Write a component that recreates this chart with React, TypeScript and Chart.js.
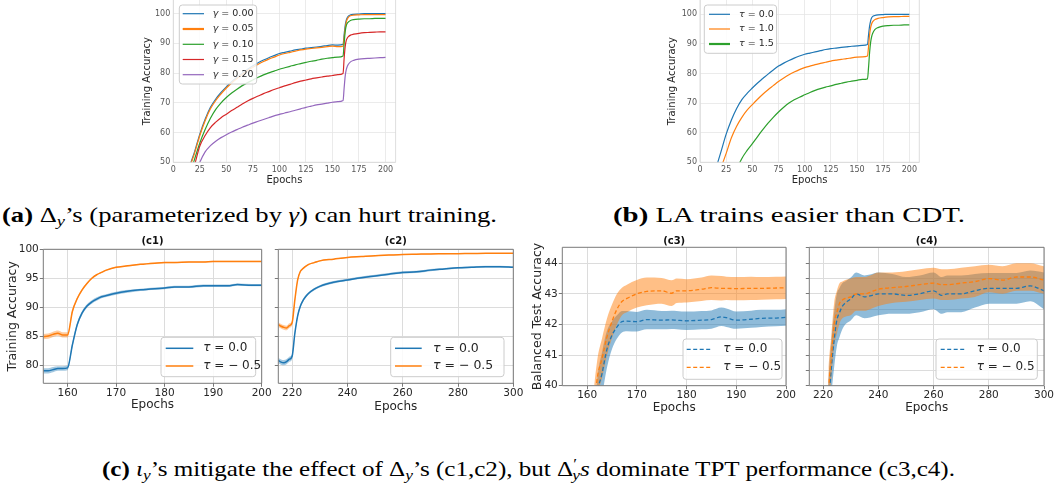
import React, { useEffect, useRef } from "react";
import { Chart, registerables } from "chart.js";

Chart.register(...registerables);

/* ------------------------- data ------------------------- */
// (a) and (b): epochs sampled
const epochsAB = [10, 15, 20, 25, 30, 35, 40, 45, 50, 55, 60, 65, 70, 75, 80, 85, 90, 95, 100, 105, 110, 115, 120, 125, 130, 135, 140, 145, 150, 155, 160, 161, 162, 163, 164, 165, 167, 170, 175, 180, 185, 190, 195, 200];
const gamma000 = [40, 48, 53.5, 59.5, 64.5, 68.5, 71.3, 73.5, 75.4, 77.1, 78.6, 80, 81.3, 82.5, 83.5, 84.4, 85.2, 85.9, 86.6, 87, 87.4, 87.8, 88.1, 88.4, 88.6, 88.8, 89, 89.3, 89.5, 89.4, 89.7, 93, 96, 97.8, 98.7, 99.2, 99.6, 99.8, 99.9, 100, 100, 100, 100, 100];
const gamma005 = [39, 47.5, 53, 59, 64, 68, 70.8, 73, 75, 76.7, 78.2, 79.6, 80.9, 82, 83, 83.9, 84.7, 85.4, 86.1, 86.6, 87, 87.4, 87.8, 88.1, 88.3, 88.5, 88.7, 88.9, 89.1, 88.9, 89.1, 92, 95, 97.2, 98.2, 98.8, 99.3, 99.5, 99.6, 99.7, 99.7, 99.7, 99.7, 99.7];
const gamma010 = [38, 45, 51, 56.5, 61, 64.8, 67.8, 70, 71.8, 73.3, 74.6, 75.8, 76.8, 77.7, 78.6, 79.4, 80.1, 80.7, 81.3, 81.8, 82.3, 82.8, 83.2, 83.6, 84, 84.3, 84.7, 85, 85.2, 85.4, 85.8, 90, 94, 96, 96.8, 97.2, 97.7, 98, 98.2, 98.3, 98.3, 98.4, 98.4, 98.4];
const gamma015 = [36, 43, 49, 55.5, 59, 61.7, 63.5, 65, 66.2, 67.4, 68.5, 69.6, 70.6, 71.5, 72.3, 73.1, 73.8, 74.5, 75.1, 75.7, 76.2, 76.8, 77.3, 77.7, 78.1, 78.4, 78.7, 79, 79.2, 79.5, 79.9, 85, 89, 91, 91.8, 92.3, 92.8, 93.1, 93.4, 93.6, 93.7, 93.8, 93.9, 93.9];
const gamma020 = [30, 38, 45, 50, 53.5, 55.6, 57.1, 58.3, 59.3, 60.2, 61, 61.8, 62.5, 63.2, 63.8, 64.4, 65, 65.6, 66.1, 66.6, 67, 67.5, 68, 68.5, 68.9, 69.3, 69.6, 69.9, 70.2, 70.4, 70.8, 75, 79, 81.2, 82.3, 83, 83.8, 84.3, 84.7, 84.9, 85, 85.1, 85.2, 85.3];
const gammaLabels = ["0.00", "0.05", "0.10", "0.15", "0.20"];

const tauB00 = [40, 47.5, 53.5, 59.5, 64.3, 68.2, 71.2, 73.3, 75.1, 76.8, 78.3, 79.8, 81.2, 82.5, 83.5, 84.4, 85.2, 85.9, 86.5, 86.9, 87.3, 87.7, 88.1, 88.4, 88.6, 88.8, 89, 89.2, 89.3, 89.5, 89.8, 93, 96, 97.8, 98.8, 99.3, 99.6, 99.8, 99.9, 100, 100, 100, 100, 100];
const tauB10 = [36, 42, 48, 53, 58.3, 62.2, 65.2, 67.6, 69.5, 71.3, 73, 74.5, 75.9, 77.3, 78.5, 79.6, 80.5, 81.3, 82, 82.5, 83, 83.4, 83.8, 84.2, 84.5, 84.8, 85, 85.3, 85.5, 85.6, 85.9, 89, 93, 95.5, 96.8, 97.5, 98.2, 98.6, 98.9, 99.1, 99.2, 99.2, 99.3, 99.3];
const tauB15 = [20, 28, 33, 38, 42.5, 47.5, 51.3, 54, 56.3, 58.7, 61, 63.2, 65.2, 67, 68.6, 70, 71.1, 72, 72.8, 73.6, 74.3, 74.9, 75.4, 75.8, 76.3, 76.7, 77.1, 77.4, 77.7, 78, 78.2, 82, 87, 90.5, 92.5, 93.6, 94.8, 95.5, 96, 96.2, 96.3, 96.3, 96.4, 96.4];
const tauLabelsB = ["0.0", "1.0", "1.5"];

// (c1)
const epochsC1 = [155, 156, 157, 158, 159, 160, 161, 162, 163, 164, 165, 166, 167, 168, 170, 172, 175, 178, 180, 182, 185, 188, 190, 193, 195, 198, 200];
const c1Tau00Mean = [79.0, 79.0, 79.2, 79.4, 79.4, 79.5, 83.5, 87.0, 89.0, 90.2, 90.9, 91.4, 91.8, 92.0, 92.4, 92.7, 93.0, 93.2, 93.3, 93.5, 93.5, 93.7, 93.7, 93.7, 93.9, 93.8, 93.8];
const c1Tau00Spread = [0.45, 0.45, 0.45, 0.4, 0.4, 0.4, 0.45, 0.4, 0.35, 0.3, 0.3, 0.3, 0.25, 0.25, 0.25, 0.25, 0.2, 0.2, 0.2, 0.2, 0.2, 0.2, 0.2, 0.2, 0.2, 0.2, 0.2];
const c1TauM05Mean = [84.9, 85.0, 85.3, 85.5, 85.2, 85.2, 89.3, 91.5, 93.0, 94.1, 95.0, 95.6, 96.0, 96.4, 96.9, 97.1, 97.4, 97.6, 97.7, 97.7, 97.8, 97.8, 97.9, 97.9, 97.9, 97.9, 97.9];
const c1TauM05Spread = [0.45, 0.45, 0.45, 0.45, 0.45, 0.45, 0.35, 0.25, 0.2, 0.15, 0.12, 0.1, 0.1, 0.1, 0.1, 0.1, 0.1, 0.1, 0.1, 0.1, 0.1, 0.1, 0.1, 0.1, 0.1, 0.1, 0.1];

// (c2)
const epochsC2 = [215, 216, 217, 218, 219, 220, 221, 222, 223, 224, 225, 226, 228, 230, 235, 240, 245, 250, 255, 260, 265, 270, 275, 280, 285, 290, 295, 300];
const c2Tau00Mean = [80.8, 80.5, 80.4, 80.6, 81.0, 81.5, 85.5, 88.5, 90.2, 91.2, 91.9, 92.4, 93.1, 93.6, 94.3, 94.7, 95.1, 95.4, 95.7, 96.0, 96.1, 96.4, 96.6, 96.8, 96.9, 97.0, 97.0, 96.9];
const c2Tau00Spread = [0.45, 0.45, 0.45, 0.45, 0.45, 0.45, 0.4, 0.35, 0.3, 0.25, 0.25, 0.2, 0.2, 0.2, 0.2, 0.2, 0.2, 0.2, 0.2, 0.2, 0.2, 0.2, 0.15, 0.15, 0.15, 0.15, 0.15, 0.15];
const c2TauM05Mean = [87.0, 86.7, 86.5, 86.4, 86.8, 87.3, 91.3, 94.7, 96.2, 96.7, 97.1, 97.4, 97.7, 98.0, 98.3, 98.6, 98.75, 98.9, 99.0, 99.1, 99.15, 99.2, 99.22, 99.25, 99.27, 99.3, 99.3, 99.3];
const c2TauM05Spread = [0.4, 0.4, 0.4, 0.4, 0.4, 0.4, 0.3, 0.2, 0.15, 0.12, 0.1, 0.1, 0.1, 0.1, 0.08, 0.08, 0.08, 0.08, 0.08, 0.08, 0.08, 0.08, 0.08, 0.08, 0.08, 0.08, 0.08, 0.08];

// (c3)
const epochsC3 = [160, 161, 162, 163, 164, 165, 166, 167, 168, 170, 172, 175, 177, 178, 180, 183, 185, 187, 188, 190, 193, 195, 198, 200];
const c3Tau00Mean = [35, 37, 39.6, 40.4, 41.2, 41.65, 41.92, 42.09, 42.11, 42.09, 42.16, 42.14, 42.15, 42.14, 42.12, 42.14, 42.16, 42.25, 42.22, 42.14, 42.17, 42.2, 42.21, 42.23];
const c3Tau00Spread = [0.5, 0.5, 0.55, 0.7, 0.6, 0.45, 0.38, 0.35, 0.33, 0.32, 0.32, 0.3, 0.3, 0.3, 0.3, 0.3, 0.3, 0.3, 0.3, 0.28, 0.28, 0.28, 0.27, 0.27];
const c3TauM05Mean = [35, 38.5, 40.2, 40.9, 41.6, 42.1, 42.5, 42.75, 42.85, 43.0, 43.08, 43.1, 43.02, 43.1, 43.1, 43.15, 43.2, 43.18, 43.18, 43.17, 43.18, 43.18, 43.19, 43.2];
const c3TauM05Spread = [0.6, 0.6, 0.6, 0.65, 0.6, 0.55, 0.5, 0.45, 0.45, 0.45, 0.45, 0.42, 0.42, 0.4, 0.38, 0.38, 0.4, 0.4, 0.38, 0.38, 0.38, 0.37, 0.37, 0.37];

// (c4)
const epochsC4 = [220, 221, 222, 223, 224, 225, 226, 227, 228, 230, 232, 235, 237, 240, 245, 250, 255, 260, 263, 265, 270, 275, 280, 285, 290, 295, 300];
const c4Tau00Mean = [35, 37, 39.3, 40.6, 41.5, 42.15, 42.4, 42.6, 42.7, 42.83, 43.0, 42.9, 42.93, 43.0, 43.0, 42.95, 43.0, 43.1, 42.95, 43.0, 43.0, 43.1, 43.18, 43.18, 43.18, 43.26, 43.1];
const c4Tau00Spread = [0.9, 0.9, 0.9, 0.9, 0.9, 0.85, 0.8, 0.75, 0.7, 0.7, 0.7, 0.7, 0.7, 0.7, 0.65, 0.6, 0.6, 0.6, 0.6, 0.6, 0.6, 0.55, 0.5, 0.5, 0.5, 0.5, 0.6];
const c4TauM05Mean = [35, 37, 39.8, 40.95, 42.0, 42.4, 42.7, 42.8, 42.85, 42.9, 43.0, 43.0, 43.05, 43.15, 43.2, 43.24, 43.3, 43.35, 43.3, 43.3, 43.35, 43.4, 43.5, 43.45, 43.55, 43.55, 43.45];
const c4TauM05Spread = [0.7, 0.7, 0.7, 0.7, 0.7, 0.7, 0.65, 0.6, 0.6, 0.6, 0.55, 0.55, 0.55, 0.55, 0.5, 0.5, 0.5, 0.5, 0.5, 0.5, 0.5, 0.5, 0.45, 0.45, 0.45, 0.45, 0.45];
const tauLabelsC = ["0.0", "\u2212 0.5"];

/* ------------------------- styling helpers ------------------------- */
const W = 1056;
const H = 490;
const FONT = '"DejaVu Sans", sans-serif';
const BLUE = "#1f77b4";
const ORANGE = "#ff7f0e";
const GREEN = "#2ca02c";
const RED = "#d62728";
const PURPLE = "#9467bd";

function rgba(hex: string, a: number) {
  const n = parseInt(hex.slice(1), 16);
  return `rgba(${(n >> 16) & 255},${(n >> 8) & 255},${n & 255},${a})`;
}

const xy = (xs: number[], ys: number[]) => xs.map((x, i) => ({ x, y: ys[i] }));

function lineSet(xs: number[], ys: number[], color: string, width: number, dash: number[] = []) {
  return {
    data: xy(xs, ys),
    borderColor: color,
    borderWidth: width,
    borderDash: dash,
    pointRadius: 0,
    fill: false,
    cubicInterpolationMode: "monotone",
  };
}

function bandSets(xs: number[], mean: number[], spread: number[], color: string, alpha: number) {
  return [
    {
      data: xs.map((x, i) => ({ x, y: mean[i] + spread[i] })),
      borderWidth: 0,
      pointRadius: 0,
      fill: "+1",
      backgroundColor: rgba(color, alpha),
      cubicInterpolationMode: "monotone",
    },
    {
      data: xs.map((x, i) => ({ x, y: mean[i] - spread[i] })),
      borderWidth: 0,
      pointRadius: 0,
      fill: false,
      cubicInterpolationMode: "monotone",
    },
  ];
}

/* ------------------------- plugins ------------------------- */
const framePlugin = {
  id: "frame",
  afterDatasetsDraw(chart: any, _a: any, o: any) {
    const { ctx, chartArea: a } = chart;
    ctx.save();
    ctx.strokeStyle = o.color;
    ctx.lineWidth = o.width;
    ctx.beginPath();
    if (o.top) {
      ctx.moveTo(a.left, a.top);
      ctx.lineTo(a.right, a.top);
    }
    ctx.moveTo(a.right, a.top);
    ctx.lineTo(a.right, a.bottom);
    ctx.lineTo(a.left, a.bottom);
    ctx.lineTo(a.left, a.top);
    ctx.stroke();
    ctx.restore();
  },
};

const legendPlugin = {
  id: "mplLegend",
  afterDraw(chart: any, _a: any, o: any) {
    if (!o || !o.items) return;
    const ctx = chart.ctx;
    ctx.save();
    const [bx, by, bw, bh] = o.box;
    ctx.beginPath();
    ctx.roundRect(bx, by, bw, bh, 3);
    ctx.fillStyle = "rgba(255,255,255,0.85)";
    ctx.fill();
    ctx.strokeStyle = "#cccccc";
    ctx.lineWidth = 1;
    ctx.stroke();
    o.items.forEach((it: any, i: number) => {
      const cy = o.rows[i];
      ctx.strokeStyle = it.color;
      ctx.lineWidth = it.width;
      ctx.setLineDash(it.dash || []);
      ctx.beginPath();
      ctx.moveTo(o.line[0], cy);
      ctx.lineTo(o.line[1], cy);
      ctx.stroke();
      ctx.setLineDash([]);
      let x = o.textX;
      ctx.textBaseline = "middle";
      ctx.textAlign = "left";
      ctx.fillStyle = "#262626";
      for (const part of it.parts) {
        ctx.font = `${part.it ? "italic " : ""}${o.size}px ${FONT}`;
        ctx.fillText(part.t, x, cy);
        x += ctx.measureText(part.t).width;
      }
    });
    ctx.restore();
  },
};

const panelTitlePlugin = {
  id: "panelTitle",
  afterDraw(chart: any, _a: any, o: any) {
    if (!o || !o.text) return;
    const { ctx, chartArea: a } = chart;
    ctx.save();
    ctx.font = `bold ${o.size}px ${FONT}`;
    ctx.fillStyle = "#111111";
    ctx.textAlign = "center";
    ctx.textBaseline = "middle";
    ctx.fillText(o.text, (a.left + a.right) / 2, o.y);
    ctx.restore();
  },
};

/* ------------------------- config builder ------------------------- */
function makeConfig(p: any, datasets: any[], legend: any, title: any) {
  datasets.forEach((d, i) => (d.order = 100 - i));
  const xLh = p.xTitleSize * 1.2;
  const xAxisH = p.xTitleY + xLh / 2 - p.b;
  const yLh = (p.yTitleSize || 12) * 1.2;
  const yAxisW = p.yTitle ? p.l - (p.yTitleX - yLh / 2) : 12;
  const zero = (s: any) => {
    s.paddingLeft = 0;
    s.paddingRight = 0;
    s.paddingTop = 0;
    s.paddingBottom = 0;
  };
  return {
    type: "line",
    data: { datasets },
    options: {
      animation: false,
      responsive: false,
      events: [],
      layout: { padding: { left: p.l - yAxisW, top: p.t, right: W - p.r, bottom: H - p.b - xAxisH } },
      scales: {
        x: {
          type: "linear",
          position: "bottom",
          min: p.xMin,
          max: p.xMax,
          ticks: {
            stepSize: p.xStep,
            includeBounds: false,
            autoSkip: false,
            maxRotation: 0,
            font: { family: FONT, size: p.tickSize },
            color: p.tickColor,
            padding: p.xTickPad,
          },
          grid: {
            color: p.grid,
            lineWidth: p.gridW,
            drawTicks: p.tickLen > 0,
            tickLength: p.tickLen,
            tickColor: p.spine,
            tickWidth: 1,
          },
          border: { display: false },
          title: { display: true, text: p.xTitle, font: { family: FONT, size: p.xTitleSize }, color: "#262626", padding: 0 },
          afterFit: (s: any) => {
            s.height = xAxisH;
            zero(s);
          },
        },
        y: {
          type: "linear",
          position: "left",
          min: p.yMin,
          max: p.yMax,
          ticks: {
            stepSize: p.yStep,
            includeBounds: false,
            display: p.yLabels,
            font: { family: FONT, size: p.tickSize },
            color: p.tickColor,
            padding: p.yTickPad,
          },
          grid: {
            color: p.grid,
            lineWidth: p.gridW,
            drawTicks: p.tickLen > 0,
            tickLength: p.tickLen,
            tickColor: p.spine,
            tickWidth: 1,
          },
          border: { display: false },
          title: p.yTitle
            ? { display: true, text: p.yTitle, font: { family: FONT, size: p.yTitleSize }, color: "#262626", padding: 0 }
            : { display: false },
          afterFit: (s: any) => {
            s.width = yAxisW;
            zero(s);
          },
        },
      },
      plugins: {
        legend: { display: false },
        tooltip: { enabled: false },
        frame: { color: p.spine, width: p.spineW, top: p.frameTop },
        mplLegend: legend,
        panelTitle: title || {},
      },
    },
    plugins: [framePlugin, legendPlugin, panelTitlePlugin],
  };
}

/* ------------------------- panels ------------------------- */
const topStyle = {
  tickSize: 8,
  tickColor: "#555555",
  tickLen: 0,
  xTickPad: 2.5,
  yTickPad: 3,
  grid: "#e6e6e6",
  gridW: 0.8,
  spine: "#d4d4d4",
  spineW: 0.8,
  frameTop: false,
  xTitle: "Epochs",
  xTitleSize: 10,
  yTitle: "Training Accuracy",
  yTitleSize: 10,
  yLabels: true,
};

const cStyle = {
  tickSize: 10.5,
  tickColor: "#262626",
  tickLen: 3.5,
  xTickPad: 0,
  yTickPad: 1,
  grid: "#dcdcdc",
  gridW: 1,
  spine: "#7a7a7a",
  spineW: 1,
  frameTop: true,
  xTitle: "Epochs",
  xTitleSize: 12,
  yTitleSize: 12.5,
};

const tauParts = (v: string) => [{ t: "\u03c4", it: true }, { t: " = " + v }];

function configA() {
  const p = { ...topStyle, l: 173.3, t: 0, r: 395.6, b: 162.3, xMin: 0, xMax: 209.5, xStep: 25, yMin: 50, yMax: 104.61, yStep: 10, xTitleY: 180, yTitleX: 147.3 };
  const series = [gamma000, gamma005, gamma010, gamma015, gamma020];
  const colors = [BLUE, ORANGE, GREEN, RED, PURPLE];
  const ds = series.map((s, i) => lineSet(epochsAB, s, colors[i], 1.2));
  const legend = {
    box: [179.3, 5, 77.4, 79],
    rows: [13.7, 29, 44.3, 59.5, 74.7],
    line: [182.7, 204],
    textX: 212.7,
    size: 9.5,
    items: gammaLabels.map((g, i) => ({ color: colors[i], width: i === 1 ? 2.2 : 1.2, parts: [{ t: "\u03b3", it: true }, { t: " = " + g }] })),
  };
  return makeConfig(p, ds, legend, null);
}

function configB() {
  const p = { ...topStyle, l: 700, t: 0, r: 919.3, b: 162.3, xMin: 0, xMax: 209.5, xStep: 25, yMin: 50, yMax: 104.83, yStep: 10, xTitleY: 180, yTitleX: 672.3 };
  const series = [tauB00, tauB10, tauB15];
  const colors = [BLUE, ORANGE, GREEN];
  const ds = series.map((s, i) => lineSet(epochsAB, s, colors[i], 1.2));
  const legend = {
    box: [704.3, 5, 72.3, 48.3],
    rows: [14.3, 29, 44],
    line: [709, 730],
    textX: 739,
    size: 9.5,
    items: tauLabelsB.map((v, i) => ({ color: colors[i], width: i === 2 ? 2.2 : 1.2, parts: tauParts(v) })),
  };
  return makeConfig(p, ds, legend, null);
}

function configC1() {
  const p = { ...cStyle, l: 43.3, t: 249.3, r: 261.7, b: 383.3, xMin: 155, xMax: 200, xStep: 10, yMin: 76.84, yMax: 100, yStep: 5, xTitleY: 405, yTitle: "Training Accuracy", yTitleX: 12.3, yLabels: true };
  const ds = [
    ...bandSets(epochsC1, c1Tau00Mean, c1Tau00Spread, BLUE, 0.4),
    ...bandSets(epochsC1, c1TauM05Mean, c1TauM05Spread, ORANGE, 0.4),
    lineSet(epochsC1, c1Tau00Mean, BLUE, 1.5),
    lineSet(epochsC1, c1TauM05Mean, ORANGE, 1.5),
  ];
  const legend = {
    box: [161, 337.3, 94.7, 39.4],
    rows: [348.3, 366],
    line: [165.7, 193.3],
    textX: 203.3,
    size: 12,
    items: tauLabelsC.map((v, i) => ({ color: i === 0 ? BLUE : ORANGE, width: 1.5, parts: tauParts(v) })),
  };
  return makeConfig(p, ds, legend, { text: "(c1)", y: 241.7, size: 10 });
}

function configC2() {
  const p = { ...cStyle, l: 278.3, t: 249.3, r: 513.3, b: 383.3, xMin: 215, xMax: 300, xStep: 20, yMin: 76.84, yMax: 100, yStep: 5, xTitleY: 407, yLabels: false };
  const ds = [
    ...bandSets(epochsC2, c2Tau00Mean, c2Tau00Spread, BLUE, 0.4),
    ...bandSets(epochsC2, c2TauM05Mean, c2TauM05Spread, ORANGE, 0.4),
    lineSet(epochsC2, c2Tau00Mean, BLUE, 1.5),
    lineSet(epochsC2, c2TauM05Mean, ORANGE, 1.5),
  ];
  const legend = {
    box: [390.7, 337.3, 113.3, 39.4],
    rows: [348.3, 366],
    line: [395, 421.7],
    textX: 433,
    size: 12.5,
    items: tauLabelsC.map((v, i) => ({ color: i === 0 ? BLUE : ORANGE, width: 1.5, parts: tauParts(v) })),
  };
  return makeConfig(p, ds, legend, { text: "(c2)", y: 241.7, size: 10 });
}

function configC3() {
  const p = { ...cStyle, l: 562.3, t: 247.3, r: 786, b: 385.7, xMin: 155, xMax: 200, xStep: 10, yMin: 40, yMax: 44.52, yStep: 1, xTitleY: 408.3, yTitle: "Balanced Test Accuracy", yTitleX: 537.3, yLabels: true };
  const ds = [
    ...bandSets(epochsC3, c3Tau00Mean, c3Tau00Spread, BLUE, 0.5),
    ...bandSets(epochsC3, c3TauM05Mean, c3TauM05Spread, ORANGE, 0.5),
    lineSet(epochsC3, c3Tau00Mean, BLUE, 1.3, [4, 2.5]),
    lineSet(epochsC3, c3TauM05Mean, ORANGE, 1.3, [4, 2.5]),
  ];
  const legend = {
    box: [683, 339, 99, 40.3],
    rows: [349.3, 367.3],
    line: [686.7, 711.7],
    textX: 723.3,
    size: 12,
    items: tauLabelsC.map((v, i) => ({ color: i === 0 ? BLUE : ORANGE, width: 1.3, dash: [4, 2.5], parts: tauParts(v) })),
  };
  return makeConfig(p, ds, legend, { text: "(c3)", y: 241.7, size: 10 });
}

function configC4() {
  const p = { ...cStyle, l: 809.3, t: 247.3, r: 1044, b: 385.7, xMin: 215, xMax: 300, xStep: 20, yMin: 40, yMax: 44.52, yStep: 0.5, xTitleY: 408.3, yLabels: false };
  const ds = [
    ...bandSets(epochsC4, c4Tau00Mean, c4Tau00Spread, BLUE, 0.5),
    ...bandSets(epochsC4, c4TauM05Mean, c4TauM05Spread, ORANGE, 0.5),
    lineSet(epochsC4, c4Tau00Mean, BLUE, 1.3, [4, 2.5]),
    lineSet(epochsC4, c4TauM05Mean, ORANGE, 1.3, [4, 2.5]),
  ];
  const legend = {
    box: [936, 339, 101.3, 40.3],
    rows: [349.3, 367.3],
    line: [940.7, 966],
    textX: 976.7,
    size: 12,
    items: tauLabelsC.map((v, i) => ({ color: i === 0 ? BLUE : ORANGE, width: 1.3, dash: [4, 2.5], parts: tauParts(v) })),
  };
  return makeConfig(p, ds, legend, { text: "(c4)", y: 241.7, size: 10 });
}

/* ------------------------- components ------------------------- */
function Panel({ make }: { make: () => any }) {
  const ref = useRef<HTMLCanvasElement>(null);
  useEffect(() => {
    const chart = new Chart(ref.current as HTMLCanvasElement, make());
    return () => chart.destroy();
  }, []);
  return (
    <canvas
      ref={ref}
      width={W}
      height={H}
      style={{ position: "absolute", left: 0, top: 0, width: W, height: H }}
    />
  );
}

const SERIF = '"Liberation Serif", "DejaVu Serif", serif';

function Captions() {
  return (
    <svg width={W} height={H} style={{ position: "absolute", left: 0, top: 0 }}>
      <text x={2} y={222} fontFamily={SERIF} fontSize={21} fill="#000" textLength={495} lengthAdjust="spacingAndGlyphs">
        <tspan fontWeight="bold">(a)</tspan>
        <tspan>{" \u0394"}</tspan>
        <tspan fontStyle="italic" fontSize={14.5} dy={4}>y</tspan>
        <tspan dy={-4}>{"\u2019s (parameterized by "}</tspan>
        <tspan fontStyle="italic">{"\u03b3"}</tspan>
        <tspan>{") can hurt training."}</tspan>
      </text>
      <text x={613} y={222} fontFamily={SERIF} fontSize={21} fill="#000" textLength={352} lengthAdjust="spacingAndGlyphs">
        <tspan fontWeight="bold">(b)</tspan>
        <tspan>{" LA trains easier than CDT."}</tspan>
      </text>
      <text x={102} y={476} fontFamily={SERIF} fontSize={21} fill="#000" textLength={853} lengthAdjust="spacingAndGlyphs">
        <tspan fontWeight="bold">(c)</tspan>
        <tspan>{" "}</tspan>
        <tspan fontStyle="italic">{"\u03b9"}</tspan>
        <tspan fontStyle="italic" fontSize={14.5} dy={4}>y</tspan>
        <tspan dy={-4}>{"\u2019s mitigate the effect of \u0394"}</tspan>
        <tspan fontStyle="italic" fontSize={14.5} dy={4}>y</tspan>
        <tspan dy={-4}>{"\u2019s (c1,c2), but \u0394"}</tspan>
        <tspan fontSize={14.5} dy={-7}>{"\u2032"}</tspan>
        <tspan fontStyle="italic" fontSize={14.5} dx={-4} dy={11}>y</tspan>
        <tspan fontStyle="italic" dy={-4}>s</tspan>
        <tspan>{" dominate TPT performance (c3,c4)."}</tspan>
      </text>
    </svg>
  );
}

export default function App() {
  return (
    <div style={{ position: "fixed", left: 0, top: 0, width: W, height: H, background: "#ffffff", overflow: "hidden" }}>
      <Captions />
      <Panel make={configA} />
      <Panel make={configB} />
      <Panel make={configC1} />
      <Panel make={configC2} />
      <Panel make={configC3} />
      <Panel make={configC4} />
    </div>
  );
}
